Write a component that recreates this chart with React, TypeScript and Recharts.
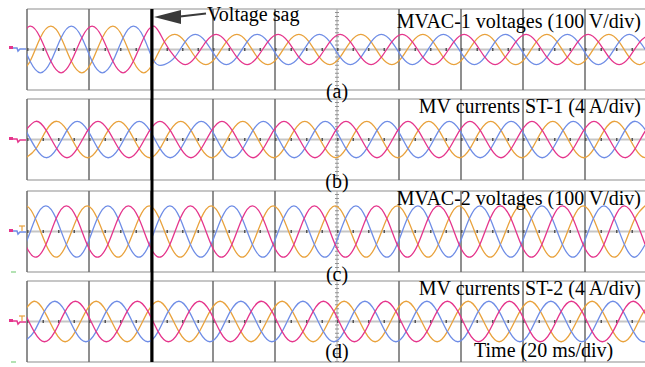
import React from 'react';
import { LineChart, Line, XAxis, YAxis, CartesianGrid, ReferenceLine } from 'recharts';

// Time samples (ms) per panel, 20 ms/div
const timeA = [-2.3,
  1, 4.3, 7.7, 11, 14.3, 17.7, 21, 24.3, 27.7, 31, 34.3, 37.7, 41, 44.3, 47.7, 51, 54.3, 57.7,
  61, 64.3, 67.7, 71, 74.3, 77.7, 81, 84.3, 87.7, 91, 94.3, 97.7, 101, 104.3, 107.7, 111, 114.3, 117.7,
  121, 124.3, 127.7, 131, 134.3, 137.7, 141, 144.3, 147.7, 151, 154.3, 157.7, 161, 164.3, 167.7,
  171, 174.3, 177.7, 181, 184.3, 187.7, 191, 194.3, 197.7, 201];
const timeB = [-0.4,
  2.9, 6.2, 9.6, 12.9, 16.2, 19.6, 22.9, 26.2, 29.6, 32.9, 36.2, 39.6, 42.9, 46.2, 49.6, 52.9, 56.2, 59.6,
  62.9, 66.2, 69.6, 72.9, 76.2, 79.6, 82.9, 86.2, 89.6, 92.9, 96.2, 99.6, 102.9, 106.2, 109.6, 112.9, 116.2, 119.6,
  122.9, 126.2, 129.6, 132.9, 136.2, 139.6, 142.9, 146.2, 149.6, 152.9, 156.2, 159.6, 162.9, 166.2, 169.6,
  172.9, 176.2, 179.6, 182.9, 186.2, 189.6, 192.9, 196.2, 199.6, 202.9];
const timeC = [-3.9,
  -0.6, 2.7, 6.1, 9.4, 12.7, 16.1, 19.4, 22.7, 26.1, 29.4, 32.7, 36.1, 39.4, 42.7, 46.1, 49.4, 52.7, 56.1,
  59.4, 62.7, 66.1, 69.4, 72.7, 76.1, 79.4, 82.7, 86.1, 89.4, 92.7, 96.1, 99.4, 102.7, 106.1, 109.4, 112.7, 116.1,
  119.4, 122.7, 126.1, 129.4, 132.7, 136.1, 139.4, 142.7, 146.1, 149.4, 152.7, 156.1, 159.4, 162.7, 166.1,
  169.4, 172.7, 176.1, 179.4, 182.7, 186.1, 189.4, 192.7, 196.1, 199.4];
const timeD = [-1,
  2.3, 5.6, 9, 12.3, 15.6, 19, 22.3, 25.6, 29, 32.3, 35.6, 39, 42.3, 45.6, 49, 52.3, 55.6, 59,
  62.3, 65.6, 69, 72.3, 75.6, 79, 82.3, 85.6, 89, 92.3, 95.6, 99, 102.3, 105.6, 109, 112.3, 115.6, 119,
  122.3, 125.6, 129, 132.3, 135.6, 139, 142.3, 145.6, 149, 152.3, 155.6, 159, 162.3, 165.6, 169,
  172.3, 175.6, 179, 182.3, 185.6, 189, 192.3, 195.6, 199, 202.3];

// (a) MVAC-1 voltages (V) - sag after ~40 ms
const pinkA = [58,
  115, 58, -58, -115, -58, 58,
  115, 58, -58, -115, -58, 58,
  115,
  38, -38, -75, -38, 38,
  75, 38, -38, -75, -38, 38,
  75, 38, -38, -75, -38, 38,
  75, 38, -38, -75, -38, 38,
  75, 38, -38, -75, -38, 38,
  75, 38, -38, -75, -38, 38,
  75, 38, -38, -75, -38, 38,
  75, 38, -38, -75, -38, 38,
  75];
const orangeA = [-115,
  -58, 58, 115, 58, -58, -115,
  -58, 58, 115, 58, -58, -115,
  -58,
  38, 75, 38, -38, -75,
  -38, 38, 75, 38, -38, -75,
  -38, 38, 75, 38, -38, -75,
  -38, 38, 75, 38, -38, -75,
  -38, 38, 75, 38, -38, -75,
  -38, 38, 75, 38, -38, -75,
  -38, 38, 75, 38, -38, -75,
  -38, 38, 75, 38, -38, -75,
  -38];
const blueA = [58,
  -58, -115, -58, 58, 115, 58,
  -58, -115, -58, 58, 115, 58,
  -58,
  -75, -38, 38, 75, 38,
  -38, -75, -38, 38, 75, 38,
  -38, -75, -38, 38, 75, 38,
  -38, -75, -38, 38, 75, 38,
  -38, -75, -38, 38, 75, 38,
  -38, -75, -38, 38, 75, 38,
  -38, -75, -38, 38, 75, 38,
  -38, -75, -38, 38, 75, 38,
  -38];

// (b) MV currents ST-1 (A)
const pinkB = [1.8,
  3.6, 1.8, -1.8, -3.6, -1.8, 1.8,
  3.6, 1.8, -1.8, -3.6, -1.8, 1.8,
  3.6, 1.8, -1.8, -3.6, -1.8, 1.8,
  3.6, 1.8, -1.8, -3.6, -1.8, 1.8,
  3.6, 1.8, -1.8, -3.6, -1.8, 1.8,
  3.6, 1.8, -1.8, -3.6, -1.8, 1.8,
  3.6, 1.8, -1.8, -3.6, -1.8, 1.8,
  3.6, 1.8, -1.8, -3.6, -1.8, 1.8,
  3.6, 1.8, -1.8, -3.6, -1.8, 1.8,
  3.6, 1.8, -1.8, -3.6, -1.8, 1.8,
  3.6];
const orangeB = [-3.6,
  -1.8, 1.8, 3.6, 1.8, -1.8, -3.6,
  -1.8, 1.8, 3.6, 1.8, -1.8, -3.6,
  -1.8, 1.8, 3.6, 1.8, -1.8, -3.6,
  -1.8, 1.8, 3.6, 1.8, -1.8, -3.6,
  -1.8, 1.8, 3.6, 1.8, -1.8, -3.6,
  -1.8, 1.8, 3.6, 1.8, -1.8, -3.6,
  -1.8, 1.8, 3.6, 1.8, -1.8, -3.6,
  -1.8, 1.8, 3.6, 1.8, -1.8, -3.6,
  -1.8, 1.8, 3.6, 1.8, -1.8, -3.6,
  -1.8, 1.8, 3.6, 1.8, -1.8, -3.6,
  -1.8];
const blueB = [1.8,
  -1.8, -3.6, -1.8, 1.8, 3.6, 1.8,
  -1.8, -3.6, -1.8, 1.8, 3.6, 1.8,
  -1.8, -3.6, -1.8, 1.8, 3.6, 1.8,
  -1.8, -3.6, -1.8, 1.8, 3.6, 1.8,
  -1.8, -3.6, -1.8, 1.8, 3.6, 1.8,
  -1.8, -3.6, -1.8, 1.8, 3.6, 1.8,
  -1.8, -3.6, -1.8, 1.8, 3.6, 1.8,
  -1.8, -3.6, -1.8, 1.8, 3.6, 1.8,
  -1.8, -3.6, -1.8, 1.8, 3.6, 1.8,
  -1.8, -3.6, -1.8, 1.8, 3.6, 1.8,
  -1.8];

// (c) MVAC-2 voltages (V)
const orangeC = [64,
  127, 64, -64, -127, -64, 64,
  127, 64, -64, -127, -64, 64,
  127, 64, -64, -127, -64, 64,
  127, 64, -64, -127, -64, 64,
  127, 64, -64, -127, -64, 64,
  127, 64, -64, -127, -64, 64,
  127, 64, -64, -127, -64, 64,
  127, 64, -64, -127, -64, 64,
  127, 64, -64, -127, -64, 64,
  127, 64, -64, -127, -64, 64,
  127];
const blueC = [-127,
  -64, 64, 127, 64, -64, -127,
  -64, 64, 127, 64, -64, -127,
  -64, 64, 127, 64, -64, -127,
  -64, 64, 127, 64, -64, -127,
  -64, 64, 127, 64, -64, -127,
  -64, 64, 127, 64, -64, -127,
  -64, 64, 127, 64, -64, -127,
  -64, 64, 127, 64, -64, -127,
  -64, 64, 127, 64, -64, -127,
  -64, 64, 127, 64, -64, -127,
  -64];
const pinkC = [64,
  -64, -127, -64, 64, 127, 64,
  -64, -127, -64, 64, 127, 64,
  -64, -127, -64, 64, 127, 64,
  -64, -127, -64, 64, 127, 64,
  -64, -127, -64, 64, 127, 64,
  -64, -127, -64, 64, 127, 64,
  -64, -127, -64, 64, 127, 64,
  -64, -127, -64, 64, 127, 64,
  -64, -127, -64, 64, 127, 64,
  -64, -127, -64, 64, 127, 64,
  -64];

// (d) MV currents ST-2 (A)
const orangeD = [2,
  4, 2, -2, -4, -2, 2,
  4, 2, -2, -4, -2, 2,
  4, 2, -2, -4, -2, 2,
  4, 2, -2, -4, -2, 2,
  4, 2, -2, -4, -2, 2,
  4, 2, -2, -4, -2, 2,
  4, 2, -2, -4, -2, 2,
  4, 2, -2, -4, -2, 2,
  4, 2, -2, -4, -2, 2,
  4, 2, -2, -4, -2, 2,
  4];
const blueD = [-4,
  -2, 2, 4, 2, -2, -4,
  -2, 2, 4, 2, -2, -4,
  -2, 2, 4, 2, -2, -4,
  -2, 2, 4, 2, -2, -4,
  -2, 2, 4, 2, -2, -4,
  -2, 2, 4, 2, -2, -4,
  -2, 2, 4, 2, -2, -4,
  -2, 2, 4, 2, -2, -4,
  -2, 2, 4, 2, -2, -4,
  -2, 2, 4, 2, -2, -4,
  -2];
const pinkD = [2,
  -2, -4, -2, 2, 4, 2,
  -2, -4, -2, 2, 4, 2,
  -2, -4, -2, 2, 4, 2,
  -2, -4, -2, 2, 4, 2,
  -2, -4, -2, 2, 4, 2,
  -2, -4, -2, 2, 4, 2,
  -2, -4, -2, 2, 4, 2,
  -2, -4, -2, 2, 4, 2,
  -2, -4, -2, 2, 4, 2,
  -2, -4, -2, 2, 4, 2,
  -2];

const gridTimes = [0, 20, 40, 60, 80, 120, 140, 160, 180, 200];
const voltTicks = [-200, -100, 0, 100, 200];
const currTicks = [-8, -4, 0, 4, 8];

const titles = ['MVAC-1 voltages (100 V/div)', 'MV currents ST-1 (4 A/div)', 'MVAC-2 voltages (100 V/div)', 'MV currents ST-2 (4 A/div)'];
const panelLabels = ['(a)', '(b)', '(c)', '(d)'];

const PINK = '#e5358c';
const ORANGE = '#e9a23c';
const BLUE = '#6f8de6';
const FONT = '"Liberation Serif", "Times New Roman", serif';

type PanelProps = { top: number; times: number[]; pink: number[]; orange: number[]; blue: number[]; yTicks: number[] };

function Panel({ top, times, pink, orange, blue, yTicks }: PanelProps) {
  const data = times.map((t, i) => ({ t, pink: pink[i], orange: orange[i], blue: blue[i] }));
  const yMax = yTicks[yTicks.length - 1];
  return (
    <div style={{ position: 'absolute', left: 0, top: top - 2 }}>
      <LineChart width={660} height={85} data={data} margin={{ top: 2, right: 13, bottom: 2, left: 27 }}>
        <XAxis dataKey="t" type="number" domain={[0, 200]} ticks={gridTimes} hide allowDataOverflow />
        <YAxis type="number" domain={[-yMax, yMax]} ticks={yTicks} hide allowDataOverflow />
        <CartesianGrid vertical={false} stroke="#c6c6c6" strokeWidth={2} />
        <CartesianGrid horizontal={false} stroke="#6a6a6a" strokeWidth={1.5} />
        <ReferenceLine x={100} stroke="#a8a8a8" strokeWidth={1} />
        <ReferenceLine x={100} stroke="#909090" strokeWidth={4} strokeDasharray="1 3.05" />
        <ReferenceLine y={0} stroke="#555" strokeWidth={3} strokeDasharray="1.5 14" />
        <Line dataKey="orange" type="natural" stroke={ORANGE} strokeWidth={1.3} dot={false} isAnimationActive={false} />
        <Line dataKey="blue" type="natural" stroke={BLUE} strokeWidth={1.3} dot={false} isAnimationActive={false} />
        <Line dataKey="pink" type="natural" stroke={PINK} strokeWidth={1.3} dot={false} isAnimationActive={false} />
      </LineChart>
    </div>
  );
}

export default function App() {
  return (
    <div style={{ position: 'absolute', left: 0, top: 0, width: 645, height: 367, overflow: 'hidden', background: '#fff' }}>
      <Panel top={9} times={timeA} pink={pinkA} orange={orangeA} blue={blueA} yTicks={voltTicks} />
      <Panel top={99} times={timeB} pink={pinkB} orange={orangeB} blue={blueB} yTicks={currTicks} />
      <Panel top={191} times={timeC} pink={pinkC} orange={orangeC} blue={blueC} yTicks={voltTicks} />
      <Panel top={281} times={timeD} pink={pinkD} orange={orangeD} blue={blueD} yTicks={currTicks} />
      <svg width={645} height={367} style={{ position: 'absolute', left: 0, top: 0, pointerEvents: 'none' }}>
        {/* ground markers */}
        <rect x={9} y={46} width={4} height={3} fill={PINK} />
        <polyline points="13,48 17,48 18,51 20,49 26,49" fill="none" stroke={BLUE} strokeWidth={1.5} />
        <rect x={9} y={137} width={4} height={3} fill={PINK} />
        <polyline points="13,139 17,139 18,142 20,140 26,140" fill="none" stroke={PINK} strokeWidth={1.5} />
        <rect x={9} y={229} width={4} height={3} fill={PINK} />
        <polyline points="13,231 17,231 18,234 20,232 26,232" fill="none" stroke={BLUE} strokeWidth={1.5} />
        <line x1={19} y1={226} x2={25} y2={226} stroke={ORANGE} strokeWidth={1.2} />
        <line x1={22} y1={226} x2={22} y2={231} stroke={ORANGE} strokeWidth={1.2} />
        <rect x={9} y={319} width={4} height={3} fill={PINK} />
        <polyline points="13,321 17,321 18,324 20,322 26,322" fill="none" stroke={PINK} strokeWidth={1.5} />
        <line x1={19} y1={316} x2={25} y2={316} stroke={ORANGE} strokeWidth={1.2} />
        <line x1={22} y1={316} x2={22} y2={321} stroke={ORANGE} strokeWidth={1.2} />
        <line x1={11} y1={272} x2={16} y2={272} stroke="#9ad89a" strokeWidth={1.5} />
        <line x1={11} y1={362} x2={16} y2={362} stroke="#9ad89a" strokeWidth={1.5} />
        {/* sag marker */}
        <rect x={150.5} y={9} width={3} height={353} fill="#000" />
        <polygon points="154,17 181,10 181,24" fill="#3a3a3a" />
        <line x1={180} y1={16.5} x2={206} y2={13.5} stroke="#3a3a3a" strokeWidth={2} />
        <g fontFamily={FONT} fontSize={20} fill="#000">
          <text x={207} y={21}>Voltage sag</text>
          <text x={641} y={28} textAnchor="end">{titles[0]}</text>
          <text x={641} y={113} textAnchor="end">{titles[1]}</text>
          <text x={641} y={205} textAnchor="end">{titles[2]}</text>
          <text x={641} y={295} textAnchor="end">{titles[3]}</text>
          <text x={337} y={98} textAnchor="middle">{panelLabels[0]}</text>
          <text x={337} y={188} textAnchor="middle">{panelLabels[1]}</text>
          <text x={337} y={281} textAnchor="middle">{panelLabels[2]}</text>
          <text x={337} y={358} textAnchor="middle">{panelLabels[3]}</text>
          <text x={474} y={357}>Time (20 ms/div)</text>
        </g>
      </svg>
    </div>
  );
}
